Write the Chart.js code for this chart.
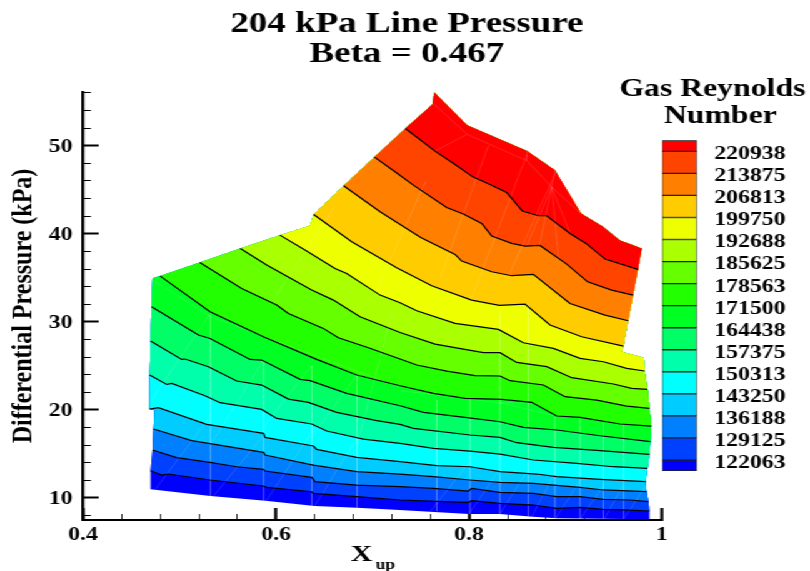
<!DOCTYPE html>
<html>
<head>
<meta charset="utf-8">
<title>204 kPa Line Pressure</title>
<script src="https://cdn.jsdelivr.net/npm/chart.js@4/dist/chart.umd.min.js"></script>
<style>
  html, body { margin: 0; background: #fff; overflow: hidden; }
  #wrap { position: relative; width: 651px; height: 571px; transform: scaleX(1.25); transform-origin: 0 0; }
  #plot { position: absolute; left: 0; top: 0; }
  #bar { position: absolute; left: 492px; top: 0; }
</style>
</head>
<body>
<div id="wrap">
  <canvas id="plot" width="651" height="571"></canvas>
  <canvas id="bar" width="156" height="571"></canvas>
</div>
<script>
// Contour levels, low to high
const levels = [122063, 129125, 136188, 143250, 150313, 157375, 164438, 171500, 178563, 185625, 192688, 199750, 206813, 213875, 220938];
const bandColors = ['#0000ff', '#0040ff', '#0080ff', '#00ccff', '#00ffff', '#00ffaa', '#00ff66', '#00ff22', '#22ff00', '#66ff00', '#aaff00', '#eeff00', '#ffcc00', '#ff8000', '#ff4400', '#ff0000'];
const levelStep = 3531;

// Axis ticks
const xMajor = [0.4, 0.6, 0.8, 1];
const xMinor = [0.44, 0.48, 0.52, 0.56, 0.64, 0.68, 0.72, 0.76, 0.84, 0.88, 0.92, 0.96];
const yMajor = [10, 20, 30, 40, 50];
const yMinor = [8, 12, 14, 16, 18, 22, 24, 26, 28, 32, 34, 36, 38, 42, 44, 46, 48, 52, 54, 56];

// Outline of the measured region [x, y]: bottom right, up the right side, along the top, down the left, along the bottom
const outline = [
  [0.987, 7.58], [0.987, 8.52], [0.986, 9.58], [0.984, 10.72], [0.983, 11.85], [0.985, 13.37], [0.987, 14.96], [0.988, 16.39],
  [0.989, 18.17], [0.987, 20.18], [0.985, 22.34], [0.982, 24.42], [0.981, 25.93], [0.958, 26.61], [0.96, 27.25], [0.965, 30.13],
  [0.97, 33.04], [0.975, 35.96], [0.979, 38.34], [0.956, 39.28], [0.938, 40.87], [0.916, 42.32], [0.889, 47.23], [0.86, 49.39],
  [0.798, 52.34], [0.764, 56.05], [0.762, 54.69], [0.734, 51.96], [0.702, 48.71], [0.67, 45.45], [0.639, 42.2], [0.635, 40.91],
  [0.604, 39.85], [0.563, 38.34], [0.521, 36.75], [0.48, 35.2], [0.472, 34.94], [0.471, 31.71], [0.47, 27.82], [0.469, 23.96],
  [0.469, 20.1], [0.474, 19.99], [0.473, 17.83], [0.472, 15.45], [0.47, 13.1], [0.47, 10.99], [0.532, 10.23], [0.589, 9.69],
  [0.64, 9.09], [0.684, 8.9], [0.728, 8.64], [0.8, 8.18], [0.832, 8.18], [0.866, 7.88], [0.891, 7.7]
];

// Contour lines [x, y], left to right
const line122063 = [[0.47, 13.1], [0.4815, 12.61], [0.4884, 12.72], [0.5316, 12.04], [0.5869, 11.36], [0.5903, 11.21], [0.6369, 10.71], [0.6387, 10.53], [0.6836, 10.15], [0.7285, 9.77], [0.7734, 9.58], [0.7993, 9.51], [0.8028, 9.7], [0.8321, 9.39], [0.8667, 9.2], [0.8908, 8.82], [0.915, 8.94], [0.9392, 8.71], [0.9599, 8.64], [0.987, 8.52]];
const line129125 = [[0.472, 15.45], [0.4971, 14.58], [0.5316, 14.05], [0.5592, 13.55], [0.5869, 13.25], [0.5886, 13.06], [0.6369, 12.34], [0.6404, 11.85], [0.6836, 11.47], [0.7285, 11.28], [0.763, 11.09], [0.7993, 10.79], [0.8028, 11.09], [0.8321, 10.64], [0.8667, 10.53], [0.8908, 10.15], [0.915, 10.15], [0.9392, 9.85], [0.9668, 9.77], [0.986, 9.58]];
const line136188 = [[0.473, 17.83], [0.5126, 16.51], [0.5869, 15.18], [0.5886, 14.88], [0.6387, 13.74], [0.6836, 12.99], [0.7285, 12.72], [0.763, 12.42], [0.801, 12.04], [0.8321, 11.78], [0.8667, 11.66], [0.915, 11.21], [0.9392, 10.91], [0.984, 10.72]];
const line143250 = [[0.469, 20.1], [0.4781, 20.25], [0.5281, 18.36], [0.5869, 17.34], [0.5886, 16.88], [0.6387, 15.9], [0.6421, 15.52], [0.6836, 14.61], [0.7285, 14.12], [0.7665, 13.67], [0.801, 13.55], [0.8321, 12.99], [0.8701, 12.72], [0.8908, 12.42], [0.9357, 12.12], [0.983, 11.85]];
const line150313 = [[0.469, 23.96], [0.4867, 22.9], [0.4919, 23.01], [0.5264, 21.61], [0.542, 20.82], [0.5851, 20.06], [0.6007, 19.04], [0.6369, 18.4], [0.6525, 17.6], [0.6905, 16.69], [0.7285, 16.2], [0.763, 15.64], [0.801, 15.33], [0.8321, 14.99], [0.8667, 14.31], [0.9116, 13.93], [0.9496, 13.55], [0.985, 13.37]];
const line157375 = [[0.47, 27.82], [0.5022, 25.74], [0.5057, 25.78], [0.5299, 24.91], [0.5592, 23.28], [0.5851, 22.82], [0.6128, 21.23], [0.6335, 20.86], [0.6628, 19.72], [0.7043, 18.78], [0.7285, 18.36], [0.7423, 17.91], [0.801, 17.15], [0.8321, 16.88], [0.8494, 16.28], [0.8874, 15.75], [0.9357, 15.37], [0.987, 14.96]];
const line164438 = [[0.471, 31.71], [0.5195, 28.5], [0.5316, 28.12], [0.573, 25.74], [0.5851, 25.66], [0.6249, 23.47], [0.6352, 23.32], [0.6732, 21.88], [0.7285, 20.48], [0.7527, 19.72], [0.7976, 19.12], [0.8321, 18.66], [0.8563, 18.02], [0.8908, 17.72], [0.9357, 17.07], [0.988, 16.39]];
const line171500 = [[0.48, 35.2], [0.5316, 31.15], [0.5869, 28.31], [0.6421, 25.74], [0.6836, 23.96], [0.7285, 22.75], [0.763, 21.88], [0.7959, 21.31], [0.8338, 21.2], [0.8649, 20.86], [0.8908, 19.31], [0.915, 19.16], [0.9565, 18.4], [0.989, 18.17]];
const line178563 = [[0.521, 36.75], [0.5644, 33.8], [0.6007, 31.91], [0.6128, 30.96], [0.649, 29.26], [0.6646, 28.2], [0.6957, 27.06], [0.7285, 25.78], [0.7458, 25.1], [0.7769, 24.41], [0.8062, 23.89], [0.8321, 23.85], [0.8425, 23.32], [0.877, 22.83], [0.8995, 21.5], [0.9323, 21.12], [0.9634, 20.44], [0.987, 20.18]];
const line185625 = [[0.563, 38.34], [0.5903, 36.45], [0.6369, 33.61], [0.6594, 32.47], [0.687, 30.58], [0.7285, 28.8], [0.7648, 27.48], [0.7941, 26.91], [0.8149, 26.5], [0.8321, 26.5], [0.8494, 25.4], [0.8805, 24.91], [0.9064, 23.66], [0.9496, 22.94], [0.9685, 22.45], [0.985, 22.34]];
const line192688 = [[0.604, 39.85], [0.63, 38.15], [0.6611, 36.07], [0.6732, 35.5], [0.7078, 33.04], [0.7285, 32.17], [0.7458, 31.26], [0.7855, 29.83], [0.8304, 29.14], [0.8563, 27.63], [0.8874, 26.99], [0.915, 25.85], [0.9392, 25.47], [0.9634, 24.72], [0.982, 24.42]];
const line199750 = [[0.639, 42.2], [0.6784, 39.1], [0.725, 36.14], [0.7613, 34.1], [0.8027, 32.47], [0.8314, 31.87], [0.858, 32.02], [0.8839, 29.64], [0.9167, 28.31], [0.96, 27.25]];
const line206813 = [[0.67, 45.45], [0.7078, 42.5], [0.7499, 39.59], [0.7855, 37.66], [0.7924, 36.9], [0.8235, 35.69], [0.8442, 35.24], [0.8666, 35.39], [0.9046, 32.09], [0.9409, 30.77], [0.965, 30.13]];
const line213875 = [[0.702, 48.71], [0.7233, 47.04], [0.7423, 45.53], [0.7768, 42.99], [0.7941, 42.24], [0.8131, 41.18], [0.8235, 39.74], [0.8442, 38.91], [0.858, 38.6], [0.8735, 38.68], [0.9012, 36.56], [0.9229, 34.55], [0.9478, 33.61], [0.97, 33.04]];
const line220938 = [[0.734, 51.96], [0.7647, 49.39], [0.7855, 47.87], [0.8038, 46.47], [0.8217, 45.6], [0.839, 44.7], [0.8552, 42.58], [0.8718, 42.05], [0.8805, 42.05], [0.9046, 40.04], [0.9212, 38.91], [0.9409, 37.13], [0.975, 35.96]];
const contourLines = [line122063, line129125, line136188, line143250, line150313, line157375, line164438, line171500, line178563, line185625, line192688, line199750, line206813, line213875, line220938];

// Faint triangulation of the data grid, [x1, y1, x2, y2]
const meshEdges = [
  [0.532, 30.8, 0.532, 10.2], [0.587, 25.7, 0.587, 9.7], [0.637, 25.1, 0.637, 9.1], [0.684, 24, 0.684, 8.9],
  [0.7665, 21.1, 0.7665, 8.5], [0.801, 21.3, 0.801, 8.2], [0.832, 31.3, 0.832, 8.2], [0.8615, 32.1, 0.8615, 7.9],
  [0.889, 19.2, 0.889, 7.7], [0.915, 19, 0.915, 7.6], [0.939, 18.5, 0.939, 7.6], [0.96, 18.4, 0.96, 7.6],
  [0.475, 11, 0.53, 19], [0.535, 10.2, 0.59, 17.5], [0.59, 9.7, 0.64, 18], [0.64, 9.1, 0.685, 17],
  [0.47, 21, 0.532, 31], [0.532, 16, 0.587, 25.7], [0.587, 18, 0.637, 25.1], [0.637, 17, 0.684, 24],
  [0.684, 16, 0.72, 31], [0.6, 33, 0.66, 43], [0.7, 32.5, 0.755, 46], [0.77, 35, 0.82, 50], [0.8, 32, 0.86, 49], [0.84, 35, 0.89, 47],
  [0.8856, 45.3, 0.86, 38.7], [0.8856, 45.3, 0.873, 38.7], [0.8856, 45.3, 0.893, 37], [0.8856, 45.3, 0.905, 40],
  [0.8856, 45.3, 0.916, 42.3], [0.8856, 45.3, 0.889, 47.2], [0.86, 48.3, 0.86, 49.4], [0.8856, 45.3, 0.86, 48.3],
  [0.798, 51.3, 0.86, 48.3], [0.798, 51.3, 0.764, 54.7], [0.798, 51.3, 0.765, 49.4],
  [0.76, 8.5, 0.8, 14], [0.8, 8.2, 0.83, 13], [0.832, 8.2, 0.86, 13], [0.865, 7.9, 0.89, 13], [0.89, 7.7, 0.915, 12],
  [0.915, 7.6, 0.94, 11.5], [0.94, 7.6, 0.96, 11.5], [0.96, 7.6, 0.987, 12],
  [0.7285, 22.2, 0.8321, 20.8], [0.8321, 20.8, 0.865, 20.8], [0.8321, 20.8, 0.89, 19.3],
  [0.473, 34.7, 0.532, 30.6], [0.532, 30.6, 0.728, 22.6]
];

const serif = 'Liberation Serif';
const toPoints = list => list.map(p => ({ x: p[0], y: p[1] }));
const samePoint = (a, b) => a[0] === b[0] && a[1] === b[1];

// Band above a contour = the contour itself plus the outline from its right end round to its left end
function regionAbove(line) {
  const right = outline.findIndex(p => samePoint(p, line[line.length - 1]));
  const left = outline.findIndex(p => samePoint(p, line[0]));
  return line.concat(outline.slice(right + 1, left));
}

const datasets = [];
bandColors.forEach((color, i) => {
  datasets.push({
    data: toPoints(i === 0 ? outline : regionAbove(contourLines[i - 1])),
    showLine: true, fill: 'shape', backgroundColor: color, borderWidth: 0,
    pointRadius: 0, tension: 0, order: 100 - i
  });
});

const meshPoints = [];
meshEdges.forEach(e => {
  meshPoints.push({ x: e[0], y: e[1] }, { x: e[2], y: e[3] }, { x: NaN, y: NaN });
});
datasets.push({
  data: meshPoints, showLine: true, spanGaps: false, fill: false, borderColor: 'rgba(255,255,255,0.22)',
  borderWidth: 0.6, pointRadius: 0, tension: 0, order: 2
});

contourLines.forEach(line => {
  datasets.push({
    data: toPoints(line), showLine: true, fill: false, borderColor: '#000', borderWidth: 1.2,
    pointRadius: 0, tension: 0, order: 1
  });
});

const xMin = 0.4, xMax = 1, yMin = 7.5, yMax = 56.1;

// X with its subscript: the axis title option has no subscript
const xTitlePlugin = {
  id: 'xTitle',
  afterDraw(chart) {
    const c = chart.ctx;
    c.save();
    c.fillStyle = '#000';
    c.font = 'bold 24px "' + serif + '"';
    c.fillText('X', 280.5, 561);
    c.font = 'bold 14px "' + serif + '"';
    c.fillText('up', 300.5, 569);
    c.restore();
  }
};

new Chart(document.getElementById('plot'), {
  type: 'scatter',
  data: { datasets },
  plugins: [xTitlePlugin],
  options: {
    responsive: false,
    animation: false,
    plugins: {
      legend: { display: false },
      tooltip: { enabled: false },
      title: {
        display: true,
        text: ['204 kPa Line Pressure', 'Beta = 0.467'],
        color: '#000',
        font: { family: serif, size: 29.6, weight: 'bold', lineHeight: 1.014 },
        padding: { top: 9, bottom: 23 }
      }
    },
    scales: {
      x: {
        type: 'linear', position: 'bottom', min: xMin, max: xMax,
        afterBuildTicks: s => { s.ticks = xMajor.map(v => ({ value: v })); },
        afterFit: s => { s.height = 51; },
        border: { color: '#000', width: 2 },
        grid: { drawOnChartArea: false, tickLength: -12, tickWidth: 2.4, tickColor: '#000' },
        ticks: {
          autoSkip: false, maxRotation: 0, color: '#000', padding: 16,
          font: { family: serif, size: 19, weight: 'bold' },
          callback: v => String(v)
        }
      },
      y: {
        type: 'linear', position: 'left', min: yMin, max: yMax,
        afterBuildTicks: s => { s.ticks = yMajor.map(v => ({ value: v })); },
        afterFit: s => { s.width = 66.4; },
        border: { color: '#000', width: 2.4 },
        grid: { drawOnChartArea: false, tickLength: -12.5, tickWidth: 2, tickColor: '#000' },
        title: {
          display: true, text: 'Differential Pressure (kPa)', color: '#000',
          font: { family: serif, size: 24, weight: 'bold' }, padding: { top: 4, bottom: 0 }
        },
        ticks: {
          autoSkip: false, color: '#000', padding: 21, labelOffset: 1,
          font: { family: serif, size: 19, weight: 'bold' }
        }
      },
      xMinor: {
        type: 'linear', position: { y: yMin }, min: xMin, max: xMax,
        afterBuildTicks: s => { s.ticks = xMinor.map(v => ({ value: v })); },
        afterFit: s => { s.height = 0; },
        border: { display: false },
        grid: { drawOnChartArea: false, tickLength: -6, tickWidth: 0.8, tickColor: '#000' },
        ticks: { autoSkip: false, display: false }
      },
      yMinor: {
        type: 'linear', position: { x: xMin }, min: yMin, max: yMax,
        afterBuildTicks: s => { s.ticks = yMinor.map(v => ({ value: v })); },
        afterFit: s => { s.width = 0; },
        border: { display: false },
        grid: { drawOnChartArea: false, tickLength: -6.7, tickWidth: 1, tickColor: '#000' },
        ticks: { autoSkip: false, display: false }
      },
      // empty axis that keeps the room for the colour bar
      yRoom: {
        type: 'linear', position: 'right', min: yMin, max: yMax,
        afterFit: s => { s.width = 121.4; },
        border: { display: false }, grid: { display: false }, ticks: { display: false }
      }
    }
  }
});

// Colour bar
const barBands = bandColors.map((color, i) => ({
  data: [[i === 0 ? levels[0] - levelStep : levels[i - 1], i === levels.length ? levels[i - 1] + levelStep : levels[i]]],
  backgroundColor: color, borderColor: '#222', borderWidth: 1, borderSkipped: false,
  grouped: false, barPercentage: 1, categoryPercentage: 1
}));

new Chart(document.getElementById('bar'), {
  type: 'bar',
  data: { labels: [''], datasets: barBands },
  options: {
    responsive: false,
    animation: false,
    layout: { padding: { bottom: 100 } },
    plugins: {
      legend: { display: false },
      tooltip: { enabled: false },
      title: {
        display: true,
        text: ['Gas Reynolds', '  Number'],
        color: '#000',
        font: { family: serif, size: 25.4, weight: 'bold', lineHeight: 1.05 },
        padding: { top: 76.5, bottom: 10.5 }
      }
    },
    scales: {
      x: { display: false },
      y: {
        type: 'linear', position: 'right', min: levels[0] - levelStep, max: levels[levels.length - 1] + levelStep,
        afterBuildTicks: s => { s.ticks = levels.map(v => ({ value: v })); },
        afterFit: s => { s.width = 90.4; },
        border: { display: false },
        grid: { display: false, drawTicks: false },
        ticks: {
          autoSkip: false, color: '#000', padding: 14, labelOffset: 3,
          font: { family: serif, size: 19, weight: 'bold' },
          callback: v => String(v)
        }
      },
      yRoom: {
        type: 'linear', position: 'left',
        afterFit: s => { s.width = 37.6; },
        border: { display: false }, grid: { display: false }, ticks: { display: false }
      }
    }
  }
});
</script>
</body>
</html>
